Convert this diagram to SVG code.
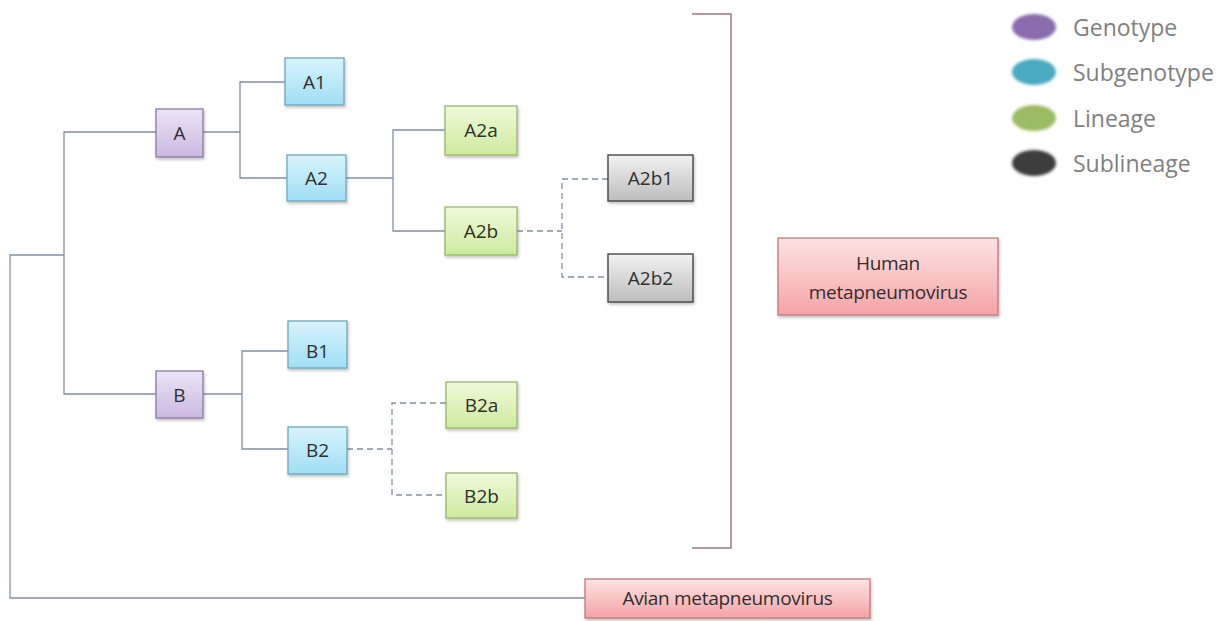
<svg xmlns="http://www.w3.org/2000/svg" width="1230" height="621" viewBox="0 0 1230 621">
<defs>
<linearGradient id="gP" x1="0" y1="0" x2="0" y2="1"><stop offset="0" stop-color="#ece4f5"/><stop offset="1" stop-color="#cbb8e0"/></linearGradient>
<linearGradient id="gB" x1="0" y1="0" x2="0" y2="1"><stop offset="0" stop-color="#d8f3fc"/><stop offset="1" stop-color="#9fdff5"/></linearGradient>
<linearGradient id="gG" x1="0" y1="0" x2="0" y2="1"><stop offset="0" stop-color="#eff9da"/><stop offset="1" stop-color="#cdeb9e"/></linearGradient>
<linearGradient id="gK" x1="0" y1="0" x2="0" y2="1"><stop offset="0" stop-color="#f2f2f2"/><stop offset="1" stop-color="#bdbdbd"/></linearGradient>
<linearGradient id="gR" x1="0" y1="0" x2="0" y2="1"><stop offset="0" stop-color="#fde3e3"/><stop offset="1" stop-color="#f5a3a6"/></linearGradient>
<filter id="sh" x="-20%" y="-20%" width="140%" height="150%"><feDropShadow dx="1" dy="2" stdDeviation="1.5" flood-color="#000" flood-opacity="0.25"/></filter>
<filter id="blur" x="-30%" y="-30%" width="160%" height="160%"><feGaussianBlur stdDeviation="1.5"/></filter>
</defs>
<style>
.n rect{stroke-width:1.3;filter:url(#sh)}
.p rect{fill:url(#gP);stroke:#8a7aa6}
.b rect{fill:url(#gB);stroke:#6fa7bd}
.g rect{fill:url(#gG);stroke:#98b56a}
.k rect{fill:url(#gK);stroke:#3a3a3a}
.r rect{fill:url(#gR);stroke:#c07a7e}
.n text{font-family:"Open Sans","Liberation Sans",sans-serif;font-size:19px;fill:#2f2f2f;text-anchor:middle;dominant-baseline:central}
.r text{letter-spacing:-0.3px}
.c{fill:none;stroke:#8090a8;stroke-width:1.3}
.d{fill:none;stroke:#8090a8;stroke-width:1.3;stroke-dasharray:6 4}
.br{fill:none;stroke:#a07880;stroke-width:1.5}
.lg text{font-family:"Open Sans","Liberation Sans",sans-serif;font-size:23px;fill:#808080;dominant-baseline:central}
</style>
<g id="connectors">
<polyline class="c" points="585,598 10,598 10,255 64,255"/>
<polyline class="c" points="156,132 64,132 64,394 156,394"/>
<line class="c" x1="203" y1="132" x2="240" y2="132"/>
<polyline class="c" points="285,82 240,82 240,178 287,178"/>
<line class="c" x1="346" y1="178" x2="393" y2="178"/>
<polyline class="c" points="445,130 393,130 393,231 445,231"/>
<line class="d" x1="517" y1="231" x2="562" y2="231"/>
<polyline class="d" points="608,179 562,179 562,277 608,277"/>
<line class="c" x1="203" y1="394" x2="242" y2="394"/>
<polyline class="c" points="288,351 242,351 242,449 288,449"/>
<line class="d" x1="347" y1="449" x2="392" y2="449"/>
<polyline class="d" points="446,403 392,403 392,495 446,495"/>
<polyline class="br" points="692,14 731,14 731,548 692,548"/>
</g>
<g id="node-A" class="n p"><rect x="156" y="109" width="47" height="48"/><text x="179.5" y="133">A</text></g>
<g id="node-B" class="n p"><rect x="156" y="371" width="47" height="47"/><text x="179.5" y="394.5">B</text></g>
<g id="node-A1" class="n b"><rect x="285" y="58" width="59" height="47"/><text x="314.5" y="82">A1</text></g>
<g id="node-A2" class="n b"><rect x="287" y="155" width="59" height="46"/><text x="316.5" y="178">A2</text></g>
<g id="node-B1" class="n b"><rect x="288" y="321" width="59" height="47"/><text x="317.5" y="351">B1</text></g>
<g id="node-B2" class="n b"><rect x="288" y="427" width="59" height="47"/><text x="317.5" y="450">B2</text></g>
<g id="node-A2a" class="n g"><rect x="445" y="106" width="72" height="49"/><text x="481" y="130">A2a</text></g>
<g id="node-A2b" class="n g"><rect x="445" y="207" width="72" height="48"/><text x="481" y="231">A2b</text></g>
<g id="node-B2a" class="n g"><rect x="446" y="382" width="71" height="46"/><text x="481.5" y="405">B2a</text></g>
<g id="node-B2b" class="n g"><rect x="446" y="473" width="71" height="45"/><text x="481.5" y="496">B2b</text></g>
<g id="node-A2b1" class="n k"><rect x="608" y="155" width="85" height="46"/><text x="650.5" y="178">A2b1</text></g>
<g id="node-A2b2" class="n k"><rect x="608" y="254" width="85" height="48"/><text x="650.5" y="278">A2b2</text></g>
<g id="node-human" class="n r"><rect x="778" y="238" width="220" height="77"/><text x="888" y="263">Human</text><text x="888" y="292">metapneumovirus</text></g>
<g id="node-avian" class="n r"><rect x="585" y="579" width="285" height="39"/><text x="727.5" y="598">Avian metapneumovirus</text></g>
<g id="legend" class="lg">
<ellipse cx="1034" cy="27" rx="22" ry="13" fill="#8a6cae" filter="url(#blur)"/>
<ellipse cx="1034" cy="72" rx="22" ry="13" fill="#4aaac2" filter="url(#blur)"/>
<ellipse cx="1034" cy="118" rx="22" ry="13" fill="#9cbb62" filter="url(#blur)"/>
<ellipse cx="1034" cy="163" rx="22" ry="13" fill="#3e3e3e" filter="url(#blur)"/>
<text x="1073" y="27">Genotype</text>
<text x="1073" y="72">Subgenotype</text>
<text x="1073" y="118">Lineage</text>
<text x="1073" y="163">Sublineage</text>
</g>
</svg>
